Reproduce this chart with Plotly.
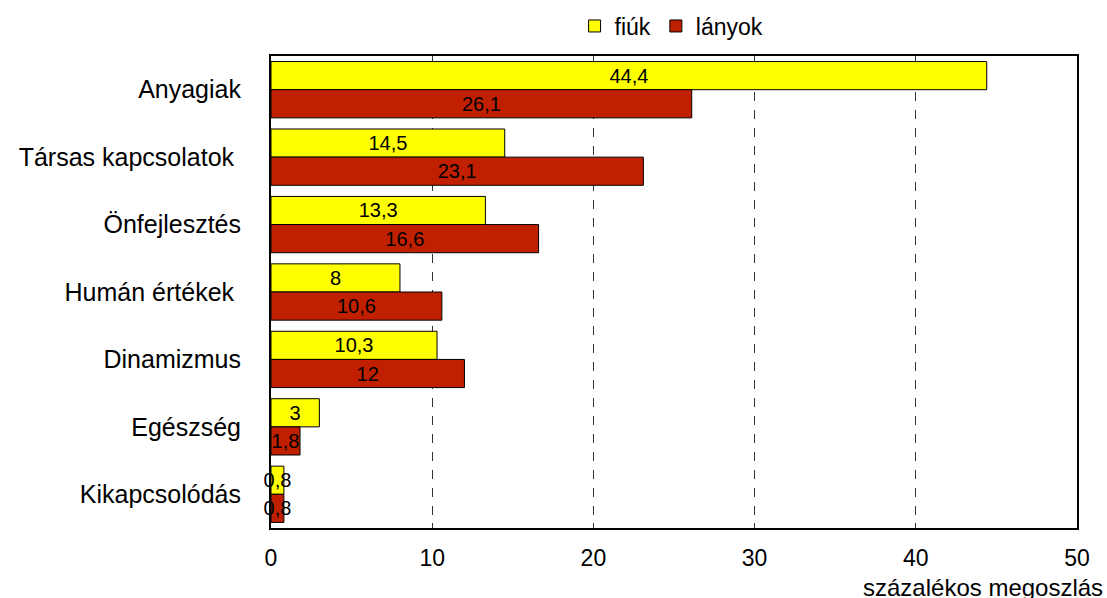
import plotly.graph_objects as go

categories = ["Anyagiak", "Társas kapcsolatok\u00a0", "Önfejlesztés", "Humán értékek\u00a0",
              "Dinamizmus", "Egészség", "Kikapcsolódás"]
fiuk = [44.4, 14.5, 13.3, 8, 10.3, 3, 0.8]
lanyok = [26.1, 23.1, 16.6, 10.6, 12, 1.8, 0.8]
xticks = [0, 10, 20, 30, 40, 50]


def fmt(v):
    return ("%g" % v).replace(".", ",")


fig = go.Figure()
for name, vals, col in [("fiúk", fiuk, "#ffff00"), ("lányok", lanyok, "#c02000")]:
    fig.add_trace(go.Bar(
        name=name, orientation="h",
        y=categories, x=vals,
        text=[fmt(v) for v in vals],
        textposition="inside", insidetextanchor="middle", textangle=0,
        constraintext="none", cliponaxis=False,
        textfont=dict(family="Liberation Sans, Arial", size=20, color="black"),
        marker=dict(color=col, line=dict(color="black", width=1)),
    ))

fig.update_layout(
    width=1107, height=598,
    barmode="group", bargap=0.165, bargroupgap=0,
    margin=dict(l=271, r=30, t=56, b=70, autoexpand=False),
    paper_bgcolor="white", plot_bgcolor="white",
    font=dict(family="Liberation Sans, Arial", size=23, color="black"),
    legend=dict(orientation="h", x=0.497, xanchor="center", y=1.018, yanchor="bottom",
                font=dict(size=23), itemwidth=30, traceorder="normal"),
    annotations=[dict(text="százalékos megoszlás", xref="paper", yref="paper",
                      x=1.035, y=-0.094, xanchor="right", yanchor="top",
                      showarrow=False, font=dict(size=24))],
)
fig.update_xaxes(range=[0, 50], tickvals=xticks, ticks="inside", ticklen=5,
                 tickcolor="#333", showline=True, linecolor="black", linewidth=2,
                 mirror="ticks", showgrid=True, gridcolor="#333", griddash="dash",
                 gridwidth=1, zeroline=False, ticklabelstandoff=8)
fig.update_yaxes(autorange="reversed", showline=True, linecolor="black", linewidth=2,
                 mirror=True, ticks="", ticklabelstandoff=23, tickfont=dict(size=25))

fig.write_html("out.html", config={"displayModeBar": False},
               post_script="document.body.style.margin='0';")
